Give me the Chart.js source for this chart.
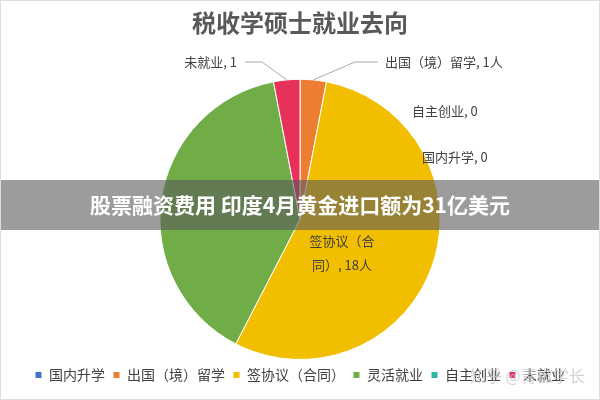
<!DOCTYPE html><html><head><meta charset="utf-8"><script src="https://cdn.jsdelivr.net/npm/chart.js@4"></script>
<style>body{margin:0;background:#fff}#w{width:600px;height:400px}</style></head><body><div id="w"><canvas id="c"></canvas></div>
<script>
const categories=['国内升学','出国（境）留学','签协议（合同）','灵活就业','自主创业','未就业'];
const values=[0,1,18,13,0,1];
const colors=['#4472C4','#ED7D31','#F2BE00','#70AD47','#2FB5A8','#E8315A'];
const labelPlugin={id:'lbl',afterDraw(ch){
 const c=ch.ctx,m=ch.getDatasetMeta(0);c.save();
 c.font='13px "Noto Sans CJK SC"';c.fillStyle='#404040';c.textBaseline='middle';
 c.strokeStyle='#aaa';c.lineWidth=1;
 const pt=(i,f)=>{const a=m.data[i];const ang=(a.startAngle+a.endAngle)/2;return [a.x+Math.cos(ang)*a.outerRadius*f,a.y+Math.sin(ang)*a.outerRadius*f];};
 let p=pt(1,1);c.beginPath();c.moveTo(p[0],p[1]);c.lineTo(355,62);c.lineTo(378,62);c.stroke();
 c.textAlign='left';c.fillText('出国（境）留学, 1人',385,62);
 p=pt(5,1);c.beginPath();c.moveTo(p[0],p[1]);c.lineTo(262,62);c.lineTo(245,62);c.stroke();
 c.textAlign='right';c.fillText('未就业, 1',237,62);
 c.textAlign='left';c.fillText('自主创业, 0',412,111);c.fillText('国内升学, 0',422,157);
 c.textAlign='center';c.fillText('签协议（合',342,241);c.fillText('同）, 18人',342,265);
 c.fillStyle='rgba(90,90,90,0.6)';c.fillRect(0,180,600,50);
 c.fillStyle='#fff';c.font='bold 21px "Noto Sans CJK SC"';c.textAlign='center';
 c.fillText('股票融资费用 印度4月黄金进口额为31亿美元',300,205);
 c.fillStyle='rgba(200,200,200,0.8)';c.font='16px "Noto Sans CJK SC"';c.textAlign='left';c.fillText('知乎 @青椒学长',470,376);
 c.strokeStyle='#ddd';c.strokeRect(0.5,0.5,599,399);
 c.restore();}};
new Chart(document.getElementById('c'),{type:'pie',data:{labels:categories,datasets:[{data:values,backgroundColor:colors,borderColor:'#fff',borderWidth:1}]},
options:{responsive:true,maintainAspectRatio:false,animation:false,rotation:0,
layout:{padding:{top:4,bottom:8,left:0,right:0}},
plugins:{title:{display:true,text:'税收学硕士就业去向',color:'#595959',font:{size:24,family:'"Noto Sans CJK SC"'},padding:{top:4,bottom:42}},
legend:{position:'bottom',labels:{boxWidth:7,boxHeight:7,padding:8,color:'#404040',font:{size:14,family:'"Noto Sans CJK SC"'}},padding:0},tooltip:{enabled:false}}},
plugins:[labelPlugin,{id:'pad',beforeLayout(ch){ch.options.layout.padding.bottom=8;},afterLayout(ch){const a=ch.chartArea;}}]});
</script></body></html>
